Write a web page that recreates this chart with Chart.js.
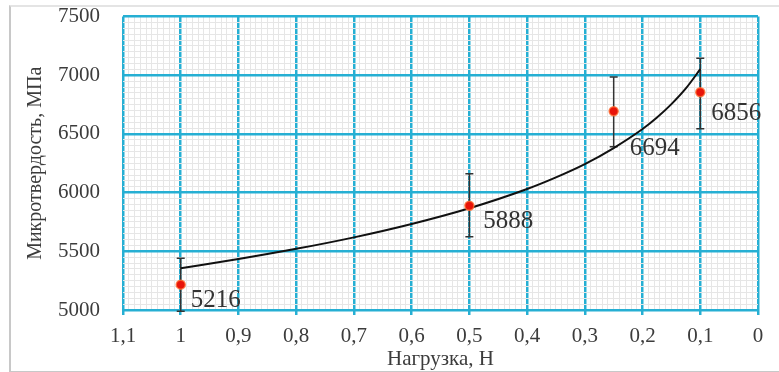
<!DOCTYPE html>
<html>
<head>
<meta charset="utf-8">
<script src="https://cdn.jsdelivr.net/npm/chart.js@4.4.1/dist/chart.umd.min.js"></script>
<style>
  html, body { margin: 0; padding: 0; background: #fff; }
  #wrap { position: relative; width: 779px; height: 372px; }
  #frame { position: absolute; left: 9px; top: 5px; width: 780px; height: 364px;
           border-left: 2px solid #c8c8c8; border-top: 2px solid #e4e4e4; border-bottom: 2px solid #c8c8c8; }
</style>
</head>
<body>
<div id="wrap">
  <div id="frame"></div>
  <canvas id="myChart" width="779" height="372"></canvas>
</div>
<script>
// measured points
const loads = [1, 0.5, 0.25, 0.1];
const hardness = [5216, 5888, 6694, 6856];
const errLow = [4990, 5625, 6390, 6545];
const errHigh = [5440, 6160, 6985, 7145];

// trend curve
const trendX = [1, 0.9, 0.8, 0.7, 0.6, 0.5, 0.4, 0.35, 0.3, 0.25, 0.2, 0.175, 0.15, 0.125, 0.1];
const trendY = [5356, 5434, 5521, 5619, 5733, 5867, 6031, 6130, 6243, 6380, 6542, 6640, 6754, 6888, 7052];

const cyan = '#26afd3';
const minorGrey = '#e6e6e6';
const textColor = '#3c3c3c';

function isMajor(v, step) {
    const r = v / step;
    return Math.abs(r - Math.round(r)) < 1e-6;
}

const errorBars = {
    id: 'errorBars',
    beforeDatasetsDraw(chart) {
        const { ctx, scales: { x, y } } = chart;
        ctx.save();
        ctx.strokeStyle = '#333';
        ctx.lineWidth = 1.5;
        loads.forEach((v, i) => {
            const px = x.getPixelForValue(v);
            const top = y.getPixelForValue(errHigh[i]);
            const bot = y.getPixelForValue(errLow[i]);
            ctx.beginPath();
            ctx.moveTo(px, top); ctx.lineTo(px, bot);
            ctx.moveTo(px - 4, top); ctx.lineTo(px + 4, top);
            ctx.moveTo(px - 4, bot); ctx.lineTo(px + 4, bot);
            ctx.stroke();
        });
        ctx.restore();
    }
};

const valueLabels = {
    id: 'valueLabels',
    afterDatasetsDraw(chart) {
        const { ctx, scales: { x, y } } = chart;
        const offsets = [[10, 16], [14, 16], [16, 37], [11, 21]];
        ctx.save();
        ctx.font = '25px "Liberation Serif"';
        ctx.fillStyle = '#333';
        ctx.textBaseline = 'middle';
        loads.forEach((v, i) => {
            const px = x.getPixelForValue(v);
            const py = y.getPixelForValue(hardness[i]);
            ctx.fillText(String(hardness[i]), px + offsets[i][0], py + offsets[i][1]);
        });
        ctx.restore();
    }
};

const ctx = document.getElementById('myChart');
new Chart(ctx, {
    data: {
        datasets: [{
            type: 'scatter',
            data: loads.map((v, i) => ({ x: v, y: hardness[i] })),
            backgroundColor: '#e8140a',
            borderColor: 'rgba(255,110,50,0.8)',
            borderWidth: 1.5,
            pointRadius: 4.5
        }, {
            type: 'line',
            data: trendX.map((v, i) => ({ x: v, y: trendY[i] })),
            borderColor: '#111',
            borderWidth: 2,
            pointRadius: 0,
            fill: false,
            cubicInterpolationMode: 'monotone'
        }]
    },
    options: {
        responsive: false,
        animation: false,
        layout: { padding: { left: 10, top: 0, right: 21, bottom: 0 } },
        plugins: { legend: { display: false }, tooltip: { enabled: false } },
        scales: {
            x: {
                type: 'linear',
                reverse: true,
                min: 0,
                max: 1.1,
                afterFit(scale) { scale.height = 62; },
                border: { display: false },
                grid: {
                    color: c => isMajor(c.tick.value, 0.1) ? cyan : minorGrey,
                    lineWidth: c => isMajor(c.tick.value, 0.1) ? 2.5 : 1,
                    tickColor: c => isMajor(c.tick.value, 0.1) ? cyan : 'rgba(0,0,0,0)',
                    tickLength: 5
                },
                ticks: {
                    stepSize: 0.01,
                    maxTicksLimit: 200,
                    autoSkip: false,
                    maxRotation: 0,
                    padding: 9,
                    color: textColor,
                    font: { family: 'Liberation Serif', size: 21 },
                    callback: v => isMajor(v, 0.1) ? String(Math.round(v * 10) / 10).replace('.', ',') : ''
                },
                title: {
                    display: true,
                    text: 'Нагрузка, Н',
                    color: textColor,
                    font: { family: 'Liberation Serif', size: 21 },
                    padding: { top: 4, bottom: 0 }
                }
            },
            y: {
                min: 5000,
                max: 7500,
                afterFit(scale) { scale.width = 113; },
                border: { display: false },
                grid: {
                    color: c => isMajor(c.tick.value, 500) ? cyan : minorGrey,
                    lineWidth: c => isMajor(c.tick.value, 500) ? 2.5 : 1,
                    tickColor: 'rgba(0,0,0,0)',
                    tickLength: 19
                },
                ticks: {
                    stepSize: 50,
                    maxTicksLimit: 200,
                    autoSkip: false,
                    padding: 4,
                    color: textColor,
                    font: { family: 'Liberation Serif', size: 21 },
                    callback: v => isMajor(v, 500) ? String(v) : ''
                },
                title: {
                    display: true,
                    text: 'Микротвердость, МПа',
                    color: textColor,
                    font: { family: 'Liberation Serif', size: 20 },
                    padding: { top: 14, bottom: 0 }
                }
            }
        }
    },
    plugins: [errorBars, valueLabels]
});
</script>
</body>
</html>
